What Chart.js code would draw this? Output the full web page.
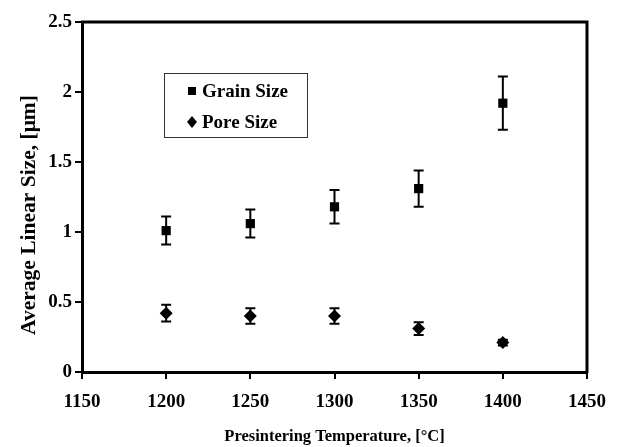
<!DOCTYPE html>
<html><head><meta charset="utf-8">
<script src="https://cdn.jsdelivr.net/npm/chart.js@4"></script>
<style>html,body{margin:0;padding:0;background:#fff}#wrap{width:618px;height:447px}</style>
</head><body><div id="wrap"><canvas id="c" width="618" height="447"></canvas></div>
<script>
const temperatures = [1200, 1250, 1300, 1350, 1400];
const grainSize = [1.01, 1.06, 1.18, 1.31, 1.92];
const grainErr = [0.10, 0.10, 0.12, 0.13, 0.19];
const poreSize = [0.42, 0.40, 0.40, 0.31, 0.21];
const poreErr = [0.06, 0.055, 0.055, 0.045, 0.02];
const xTicks = [1150, 1200, 1250, 1300, 1350, 1400, 1450];
const yTicks = [0, 0.5, 1, 1.5, 2, 2.5];
const seriesNames = ['Grain Size', 'Pore Size'];
const yTitle = 'Average Linear Size, [μm]';
const xTitle = 'Presintering Temperature, [°C]';

const SERIF = '"Liberation Serif", "Times New Roman", serif';

const errorBars = {
  id: 'errorBars',
  beforeDatasetsDraw(chart) {
    const ctx = chart.ctx, xs = chart.scales.x, ys = chart.scales.y;
    ctx.save();
    ctx.strokeStyle = '#000';
    ctx.lineWidth = 2;
    chart.data.datasets.forEach(ds => {
      ds.data.forEach((p, i) => {
        const e = ds.errors[i];
        const x = xs.getPixelForValue(p.x);
        const yt = ys.getPixelForValue(p.y + e);
        const yb = ys.getPixelForValue(p.y - e);
        ctx.beginPath();
        ctx.moveTo(x, yt); ctx.lineTo(x, yb);
        ctx.moveTo(x - 5, yt); ctx.lineTo(x + 5, yt);
        ctx.moveTo(x - 5, yb); ctx.lineTo(x + 5, yb);
        ctx.stroke();
      });
    });
    ctx.restore();
  }
};

const frameAndLegend = {
  id: 'frameAndLegend',
  afterDraw(chart) {
    const ctx = chart.ctx, a = chart.chartArea;
    ctx.save();
    ctx.strokeStyle = '#000';
    ctx.lineWidth = 3;
    ctx.beginPath();
    ctx.moveTo(a.left - 1, a.top);
    ctx.lineTo(a.right, a.top);
    ctx.lineTo(a.right, a.bottom + 1);
    ctx.stroke();
    // y axis title
    ctx.save();
    ctx.translate(29, 215);
    ctx.rotate(-Math.PI / 2);
    ctx.fillStyle = '#000';
    ctx.font = 'bold 21.5px ' + SERIF;
    ctx.textAlign = 'center';
    ctx.textBaseline = 'middle';
    ctx.fillText(yTitle, 0, 0);
    ctx.restore();
    // legend box
    const lx = 164, ly = 73, lw = 143, lh = 64;
    ctx.lineWidth = 1;
    ctx.strokeStyle = '#333';
    ctx.fillStyle = '#fff';
    ctx.fillRect(lx, ly, lw, lh);
    ctx.strokeRect(lx + 0.5, ly + 0.5, lw, lh);
    ctx.fillStyle = '#000';
    ctx.font = 'bold 19px ' + SERIF;
    ctx.textBaseline = 'middle';
    ctx.textAlign = 'left';
    ctx.fillRect(188, 87, 8, 8);
    ctx.fillText(seriesNames[0], 202, 92);
    ctx.beginPath();
    ctx.moveTo(192, 116); ctx.lineTo(197, 122); ctx.lineTo(192, 128); ctx.lineTo(187, 122);
    ctx.closePath(); ctx.fill();
    ctx.fillText(seriesNames[1], 202, 123);
    ctx.restore();
  }
};

new Chart(document.getElementById('c'), {
  type: 'scatter',
  data: {
    datasets: [
      {
        label: seriesNames[0],
        data: temperatures.map((t, i) => ({x: t, y: grainSize[i]})),
        errors: grainErr,
        pointStyle: 'rect', pointRadius: 6.5,
        backgroundColor: '#000', borderColor: '#000', borderWidth: 0
      },
      {
        label: seriesNames[1],
        data: temperatures.map((t, i) => ({x: t, y: poreSize[i]})),
        errors: poreErr,
        pointStyle: 'rectRot', pointRadius: 6.5,
        backgroundColor: '#000', borderColor: '#000', borderWidth: 0
      }
    ]
  },
  options: {
    responsive: false, animation: false, devicePixelRatio: 1,
    layout: { padding: { top: 22, right: 31, left: 0, bottom: 0 } },
    plugins: { legend: { display: false }, tooltip: { enabled: false } },
    scales: {
      x: {
        type: 'linear', min: 1150, max: 1450,
        afterBuildTicks: s => { s.ticks = xTicks.map(v => ({value: v})); },
        afterFit: s => { s.height = 75; },
        grid: { drawOnChartArea: false, drawTicks: true, tickLength: 7, color: '#000', lineWidth: 2 },
        border: { color: '#000', width: 3 },
        ticks: { color: '#000', padding: 12, maxRotation: 0, callback: v => String(v), font: { family: SERIF, size: 19, weight: 'bold' } },
        title: { display: true, text: xTitle, color: '#000', padding: { top: 4, bottom: 0 }, font: { family: SERIF, size: 16.5, weight: 'bold' } }
      },
      y: {
        type: 'linear', min: 0, max: 2.5,
        afterBuildTicks: s => { s.ticks = yTicks.map(v => ({value: v})); },
        afterFit: s => { s.width = 82; },
        grid: { drawOnChartArea: false, drawTicks: true, tickLength: 7, color: '#000', lineWidth: 2 },
        border: { color: '#000', width: 3 },
        ticks: { color: '#000', padding: 3, callback: v => String(v), font: { family: SERIF, size: 19, weight: 'bold' } },
        title: { display: false }
      }
    }
  },
  plugins: [errorBars, frameAndLegend]
});
</script>
</body></html>
